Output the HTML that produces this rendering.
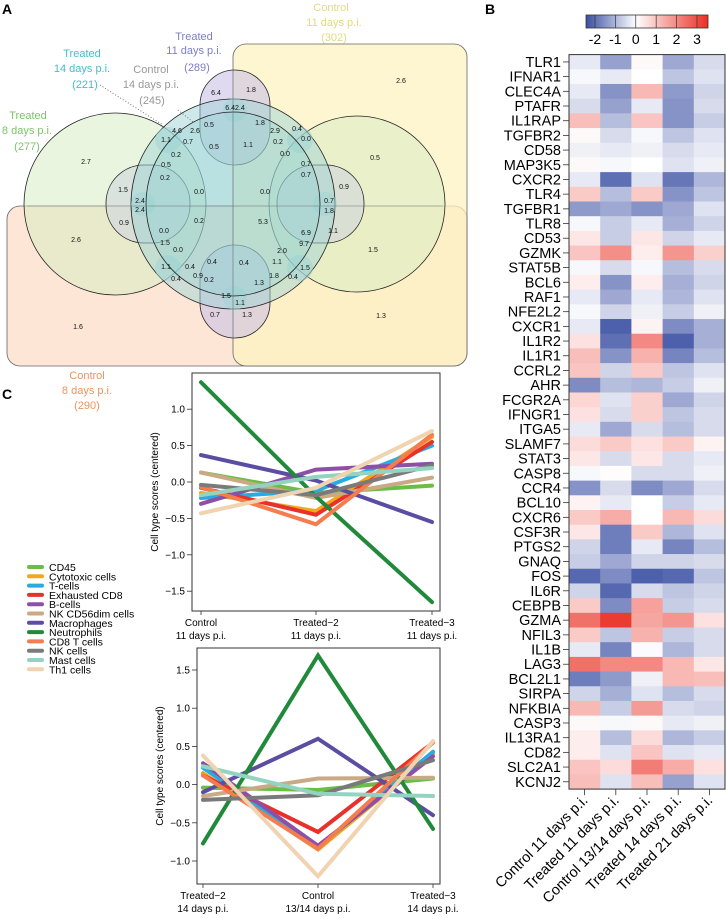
<!DOCTYPE html>
<html><head><meta charset="utf-8"><style>
html,body{margin:0;padding:0;background:#fff;}
svg{display:block;font-family:"Liberation Sans",Arial,sans-serif;}
</style></head><body>
<svg id="root" width="726" height="919" viewBox="0 0 726 919">
<g>
<text x="2" y="14" font-size="14" font-weight="bold">A</text>
<rect x="7" y="206" width="460" height="160" rx="13" fill="#fde6d6" stroke="#666" stroke-width="0.8"/>
<rect x="233" y="44" width="234" height="322" rx="13" fill="#fdf3c0" fill-opacity="0.75" stroke="#666" stroke-width="0.8"/>
<g fill="#d9ecc4" fill-opacity="0.55" stroke="#222" stroke-width="0.8">
<circle cx="115" cy="204" r="91"/><circle cx="357" cy="204" r="88"/>
</g>
<g fill="#cbc2e6" fill-opacity="0.6" stroke="#222" stroke-width="0.8">
<rect x="200" y="70" width="70" height="95" rx="35"/><rect x="200" y="245" width="70" height="93" rx="35"/>
</g>
<g fill="#cfd6dc" fill-opacity="0.6" stroke="#222" stroke-width="0.8">
<rect x="106" y="165" width="84" height="78" rx="38"/><rect x="277" y="165" width="87" height="78" rx="38"/>
</g>
<g fill="#9fd3d6" fill-opacity="0.5">
<ellipse cx="233" cy="204" rx="102" ry="105" stroke="#222" stroke-width="0.8"/>
<circle cx="168" cy="140" r="13"/><circle cx="300" cy="140" r="13"/><circle cx="168" cy="268" r="13"/><circle cx="300" cy="268" r="13"/>
<circle cx="235" cy="110" r="12"/><circle cx="235" cy="298" r="12"/><circle cx="143" cy="204" r="12"/><circle cx="325" cy="204" r="12"/>
</g>
<ellipse cx="233" cy="204" rx="87" ry="92" fill="#8ccfcf" fill-opacity="0.3" stroke="#222" stroke-width="0.8"/>
<line x1="233" y1="70" x2="233" y2="338" stroke="#777" stroke-width="0.6"/>
<line x1="27" y1="206" x2="443" y2="206" stroke="#777" stroke-width="0.6"/>
<line x1="100" y1="85" x2="163" y2="125" stroke="#777" stroke-dasharray="1,2"/>
<line x1="178" y1="110" x2="193" y2="122" stroke="#777" stroke-dasharray="1,2"/>
<g font-size="11" text-anchor="middle">
<text x="331" y="11" fill="#e0dc7a">Control</text><text x="334" y="26" fill="#e0dc7a">11 days p.i.</text><text x="334" y="41" fill="#e0dc7a">(302)</text>
<text x="194" y="40" fill="#7d7fc4">Treated</text><text x="194" y="54" fill="#7d7fc4">11 days p.i.</text><text x="197" y="71" fill="#7d7fc4">(289)</text>
<text x="82" y="57" fill="#3fc1c9">Treated</text><text x="82" y="72" fill="#3fc1c9">14 days p.i.</text><text x="85" y="88" fill="#3fc1c9">(221)</text>
<text x="151" y="73" fill="#999">Control</text><text x="151" y="88" fill="#999">14 days p.i.</text><text x="152" y="104" fill="#999">(245)</text>
<text x="28" y="119" fill="#7cc46a">Treated</text><text x="27" y="134" fill="#7cc46a">8 days p.i.</text><text x="27" y="150" fill="#7cc46a">(277)</text>
<text x="87" y="379" fill="#f0925a">Control</text><text x="87" y="394" fill="#f0925a">8 days p.i.</text><text x="87" y="409" fill="#f0925a">(290)</text>
</g>
<g font-size="7" text-anchor="middle" fill="#111">
<text x="401" y="83">2.6</text><text x="86" y="164">2.7</text><text x="375" y="160">0.5</text><text x="76" y="242">2.6</text><text x="373" y="252">1.5</text>
<text x="78" y="329">1.6</text><text x="381" y="318">1.3</text><text x="216" y="95">6.4</text><text x="251" y="92">1.8</text>
<text x="214" y="149">0.5</text><text x="248" y="147">1.1</text><text x="199" y="194">0.0</text><text x="265" y="194">0.0</text>
<text x="199" y="223">0.2</text><text x="263" y="224">5.3</text><text x="123" y="192">1.5</text><text x="344" y="189">0.9</text>
<text x="124" y="225">0.9</text><text x="333" y="233">1.1</text><text x="212" y="264">0.4</text><text x="244" y="265">0.4</text>
<text x="215" y="317">0.7</text><text x="247" y="317">1.3</text><text x="140" y="203">2.4</text><text x="140" y="212">2.4</text>
<text x="329" y="203">0.7</text><text x="329" y="213">1.8</text><text x="177" y="133">4.6</text><text x="195" y="133">2.6</text>
<text x="209" y="127">0.5</text><text x="260" y="125">1.8</text><text x="275" y="133">2.9</text><text x="297" y="131">0.4</text>
<text x="306" y="141">0.0</text><text x="306" y="166">0.7</text><text x="306" y="177">0.7</text><text x="306" y="235">6.9</text>
<text x="304" y="246">9.7</text><text x="282" y="253">2.0</text><text x="277" y="264">1.1</text><text x="305" y="270">1.5</text>
<text x="293" y="279">0.4</text><text x="274" y="278">1.8</text><text x="259" y="285">1.3</text><text x="240" y="305">1.1</text>
<text x="226" y="298">1.5</text><text x="209" y="282">0.2</text><text x="198" y="278">0.9</text><text x="190" y="269">0.4</text>
<text x="166" y="269">1.1</text><text x="176" y="281">0.4</text><text x="178" y="252">0.0</text><text x="165" y="245">1.5</text>
<text x="164" y="233">0.0</text><text x="165" y="180">0.2</text><text x="166" y="167">0.5</text><text x="176" y="157">0.2</text>
<text x="188" y="144">0.7</text><text x="166" y="142">1.1</text><text x="235" y="110">6.42.4</text><text x="278" y="144">0.2</text><text x="285" y="156">0.0</text>
</g>
</g>
<g id="heat">
<text x="485" y="14" font-size="14" font-weight="bold">B</text>
<defs><linearGradient id="cb" x1="0" x2="1" y1="0" y2="0">
<stop offset="0" stop-color="#3a4fa3"/><stop offset="0.41" stop-color="#ffffff"/><stop offset="1" stop-color="#ea2e22"/></linearGradient></defs>
<rect x="586" y="15" width="122" height="13" fill="url(#cb)" stroke="#333" stroke-width="0.8"/>
</g>
<g id="lines">
<text x="2" y="399" font-size="14" font-weight="bold">C</text>
</g>
</svg>
<script>
const NS='http://www.w3.org/2000/svg';
function mk(tag,attrs,parent,txt){const e=document.createElementNS(NS,tag);for(const k in attrs)e.setAttribute(k,attrs[k]);if(txt!==undefined)e.textContent=txt;parent.appendChild(e);return e;}

const genes=['TLR1','IFNAR1','CLEC4A','PTAFR','IL1RAP','TGFBR2','CD58','MAP3K5','CXCR2','TLR4','TGFBR1','TLR8','CD53','GZMK','STAT5B','BCL6','RAF1','NFE2L2','CXCR1','IL1R2','IL1R1','CCRL2','AHR','FCGR2A','IFNGR1','ITGA5','SLAMF7','STAT3','CASP8','CCR4','BCL10','CXCR6','CSF3R','PTGS2','GNAQ','FOS','IL6R','CEBPB','GZMA','NFIL3','IL1B','LAG3','BCL2L1','SIRPA','NFKBIA','CASP3','IL13RA1','CD82','SLC2A1','KCNJ2'];
const sampleLabels=['Control 11 days p.i.','Treated 11 days p.i.','Control 13/14 days p.i.','Treated 14 days p.i.','Treated 21 days p.i.'];
const colorTicks=[-2,-1,0,1,2,3];
const heatValues=[
[-0.3,-1.3,0.1,-1.2,-0.5],[-0.1,-0.3,0.0,-0.8,-0.4],[-0.3,-1.5,1.2,-1.4,-0.6],[-0.5,-1.3,-0.3,-1.5,-0.5],[1.1,-0.9,1.0,-1.5,-0.7],
[0.1,-0.5,-0.1,-0.8,-0.4],[-0.2,-0.3,-0.2,-0.5,-0.3],[0.1,-0.1,0.0,-0.4,-0.2],[-0.3,-2.0,-0.4,-1.9,-1.0],[0.9,-0.9,0.9,-1.5,-0.8],
[-1.4,-1.2,-1.5,-1.2,-0.4],[-0.1,-0.7,-0.3,-1.1,-0.6],[0.4,-0.7,0.4,-0.6,-0.3],[1.0,1.9,0.3,1.8,0.8],[-0.1,-0.5,-0.1,-0.9,-0.5],
[0.3,-1.5,0.3,-1.1,-0.6],[-0.3,-1.2,-0.3,-1.0,-0.4],[-0.1,-0.6,-0.2,-0.7,-0.2],[-0.3,-2.2,0.2,-1.6,-1.1],[0.5,-2.0,2.0,-2.2,-1.1],
[1.1,-1.5,1.3,-1.7,-0.9],[1.0,-0.6,0.9,-0.8,-0.4],[-1.6,-0.9,-1.0,-0.7,-0.2],[0.7,-0.4,0.8,-1.2,-0.6],[0.5,-0.5,0.8,-0.8,-0.5],
[-0.3,-1.2,-0.5,-0.9,-0.5],[0.6,0.9,0.5,0.9,0.2],[0.4,-0.5,0.4,-0.5,-0.3],[-0.1,0.05,-0.5,-0.5,-0.2],[-1.5,-0.5,-1.6,-1.2,-0.5],
[0.2,-0.3,0.0,-0.7,-0.3],[0.9,1.4,0.0,1.2,0.6],[0.4,-1.8,0.9,-1.0,-0.4],[-0.6,-1.8,-0.3,-1.7,-0.9],[-0.7,-1.2,-0.6,-0.6,-0.5],
[-2.1,-1.6,-2.2,-2.1,-0.8],[-0.6,-2.1,-0.5,-0.8,-0.6],[0.9,-1.6,1.6,-0.7,-0.5],[2.4,3.3,1.5,1.8,0.5],[0.9,-0.8,1.3,-0.7,-0.5],
[-0.3,-1.7,-0.05,-1.0,-0.5],[2.4,2.0,2.0,1.2,0.4],[-1.8,-1.4,-0.2,1.2,1.1],[-0.6,-1.1,-0.4,-0.9,-0.5],[1.2,-0.7,1.7,-0.5,-0.6],
[0.1,-0.1,0.1,-0.3,-0.2],[0.3,-0.9,0.6,-1.0,-0.7],[0.3,-0.4,1.0,-0.4,-0.3],[1.0,0.6,2.2,1.4,0.5],[1.1,-0.4,1.1,-1.3,-0.4]];

const cellTypes=['CD45','Cytotoxic cells','T-cells','Exhausted CD8','B-cells','NK CD56dim cells','Macrophages','Neutrophils','CD8 T cells','NK cells','Mast cells','Th1 cells'];
const cellColors=['#6abd45','#f2a81d','#29abe2','#e8312a','#8e4fa6','#c9aa85','#5b4ea2','#21893a','#f47c4e','#7a7a7a','#93d4c0','#f0d3b0'];
const chart1Cats=[['Control','11 days p.i.'],['Treated\u22122','11 days p.i.'],['Treated\u22123','11 days p.i.']];
const chart1Ticks=[-1.5,-1.0,-0.5,0.0,0.5,1.0];
const chart1Values=[
[0.13,-0.15,-0.05],[-0.15,-0.40,0.62],[-0.22,-0.12,0.50],[-0.08,-0.45,0.55],[-0.30,0.17,0.25],[0.13,-0.22,0.06],
[0.37,0.02,-0.55],[1.37,-0.20,-1.65],[-0.07,-0.58,0.65],[-0.04,-0.18,0.23],[-0.18,0.07,0.19],[-0.43,-0.08,0.70]];
const chart2Cats=[['Treated\u22122','14 days p.i.'],['Control','13/14 days p.i.'],['Treated\u22123','14 days p.i.']];
const chart2Ticks=[-1.0,-0.5,0.0,0.5,1.0,1.5];
const chart2Values=[
[-0.04,-0.07,0.08],[0.15,-0.85,0.40],[0.22,-0.82,0.43],[0.12,-0.62,0.55],[0.28,-0.80,0.37],[-0.15,0.08,0.09],
[-0.10,0.60,-0.40],[-0.77,1.69,-0.58],[0.12,-0.84,0.55],[-0.20,-0.14,0.32],[0.24,-0.12,-0.15],[0.38,-1.20,0.57]];

(function(){
const g=document.getElementById('heat');
const x0=569,colW=31.2,y0=54.6,rowH=14.69;
const cbx=586,cbw=122,vmin=-2.44,vmax=3.54;
const cbX=v=>cbx+(v-vmin)/(vmax-vmin)*cbw;
function lerp(a,b,t){return a.map((c,i)=>Math.round(c+(b[i]-c)*t));}
function color(v){const blue=[58,79,163],white=[255,255,255],red=[234,46,34];
 let c; if(v<0){c=lerp(white,blue,Math.min(1,-v/2.44));}else{c=lerp(white,red,Math.min(1,v/3.54));}
 return 'rgb('+c.join(',')+')';}
colorTicks.forEach(t=>{
 const tk=mk('line',{x1:cbX(t),x2:cbX(t),y1:15,y2:28,stroke:'#333','stroke-width':0.7},g);
 
 
 const tl=mk('text',{x:cbX(t),y:44,'font-size':14,'text-anchor':'middle'},g,t<0?'-'+Math.abs(t):String(t));
 
 
});
heatValues.forEach((row,r)=>{
 row.forEach((v,c)=>{
  const cell=mk('rect',{x:x0+c*colW,y:y0+r*rowH,width:colW+0.4,height:rowH+0.4,fill:color(v)},g);
  
  
 });
 const lab=mk('text',{x:561,y:y0+r*rowH+rowH/2+5,'font-size':14.5,'text-anchor':'end'},g,genes[r]);
 
 
 const tk=mk('line',{x1:563,x2:569,y1:y0+(r+0.5)*rowH,y2:y0+(r+0.5)*rowH,stroke:'#333','stroke-width':0.8},g);
 
 
});
const fr=mk('rect',{x:x0,y:y0,width:colW*5,height:rowH*genes.length,fill:'none',stroke:'#333','stroke-width':1},g);


const yb=y0+rowH*genes.length;
sampleLabels.forEach((s,i)=>{
 const cx=x0+(i+0.5)*colW;
 const tk=mk('line',{x1:cx,x2:cx,y1:yb,y2:yb+6,stroke:'#333','stroke-width':0.8},g);
 
 
 const t=mk('text',{x:cx+4,y:yb+12,'font-size':14.5,'text-anchor':'end',transform:'rotate(-45 '+(cx+4)+' '+(yb+12)+')'},g,s);
 
 
});
})();

function lineChart(opt){
 const g=document.getElementById('lines');
 const sy=v=>opt.y0-v*opt.pxPerUnit;
 const xs=opt.xTicks;
 const fr=mk('rect',{x:opt.left,y:opt.top,width:opt.right-opt.left,height:opt.bottom-opt.top,fill:'#fff',stroke:'#333','stroke-width':1},g);
 
 
 opt.values.forEach((vals,s)=>{
  const pts=vals.map((v,i)=>xs[i]+','+sy(v)).join(' ');
  const pl=mk('polyline',{points:pts,fill:'none',stroke:cellColors[s],'stroke-width':4,'stroke-linejoin':'miter','stroke-linecap':'round'},g);
  
  
 });
 opt.ticks.forEach(t=>{
  const y=sy(t);
  const tk=mk('line',{x1:opt.left-5,x2:opt.left,y1:y,y2:y,stroke:'#333','stroke-width':0.8},g);
  
  
  const tl=mk('text',{x:opt.left-7,y:y+3.5,'font-size':10,'text-anchor':'end'},g,(t<0?'\u2212':'')+Math.abs(t).toFixed(1));
  
  
 });
 opt.cats.forEach((c,i)=>{
  const tk=mk('line',{x1:xs[i],x2:xs[i],y1:opt.bottom,y2:opt.bottom+4,stroke:'#333','stroke-width':0.8},g);
  
  
  const t1=mk('text',{x:xs[i],y:opt.bottom+15,'font-size':10,'text-anchor':'middle'},g,c[0]);
  
  
  const t2=mk('text',{x:xs[i],y:opt.bottom+28,'font-size':10,'text-anchor':'middle'},g,c[1]);
  
  
 });
 const yt=mk('text',{x:0,y:0,'font-size':10,'text-anchor':'middle',transform:'translate('+(opt.left-34)+','+((opt.top+opt.bottom)/2)+') rotate(-90)'},g,'Cell type scores (centered)');
 
 
}
lineChart({name:'chart-11d',left:192,right:440,top:373,bottom:611,y0:482,pxPerUnit:72.8,xTicks:[201,316,432],values:chart1Values,ticks:chart1Ticks,cats:chart1Cats});
lineChart({name:'chart-14d',left:197,right:440,top:648,bottom:884,y0:784.6,pxPerUnit:76.4,xTicks:[203,318,433],values:chart2Values,ticks:chart2Ticks,cats:chart2Cats});

(function(){
 const g=document.getElementById('lines');
 cellTypes.forEach((n,i)=>{
  const y=567+i*9.3;
  const sw=mk('line',{x1:29,x2:42,y1:y,y2:y,stroke:cellColors[i],'stroke-width':4,'stroke-linecap':'round'},g);
  
  
  const t=mk('text',{x:49,y:y+4,'font-size':10.5},g,n);
  
  
 });
})();
</script>
</body></html>
